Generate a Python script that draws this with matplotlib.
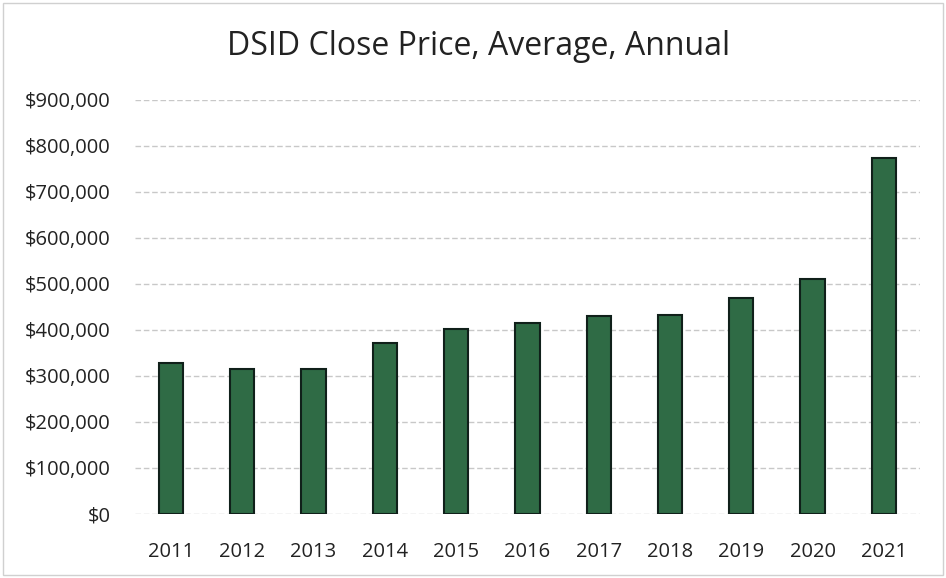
import matplotlib
matplotlib.use("Agg")
import matplotlib.pyplot as plt
from matplotlib.ticker import FuncFormatter, MultipleLocator

years = ["2011", "2012", "2013", "2014", "2015", "2016", "2017", "2018", "2019", "2020", "2021"]
avg_close = [328000, 316000, 314000, 372000, 401000, 416000, 430000, 432000, 469000, 511000, 774000]

plt.rcParams['font.family'] = ['Open Sans', 'DejaVu Sans']

fig = plt.figure(figsize=(9.46, 5.78), dpi=100)
ax = fig.add_axes([0.143, 0.111, 0.829, 0.716])

x = list(range(len(years)))
ax.bar(x, avg_close, width=0.34, color="#2f6b45", edgecolor="#10201a", linewidth=1.5, zorder=3)

ax.set_ylim(0, 900000)
ax.set_xlim(-0.5, len(years) - 0.5)
ax.yaxis.set_major_locator(MultipleLocator(100000))
ax.yaxis.set_major_formatter(FuncFormatter(lambda v, p: f"${v:,.0f}"))
ax.set_xticks(x)
ax.set_xticklabels(years)
ax.grid(axis="y", color="#c8c8c8", linewidth=1, linestyle=(0, (4, 2)), zorder=0)
for s in ax.spines.values():
    s.set_visible(False)
ax.tick_params(axis="both", length=0, labelsize=14.5, colors="#222222")
ax.tick_params(axis="y", pad=18)
ax.tick_params(axis="x", pad=20)

fig.text(0.506, 0.92, "DSID Close Price, Average, Annual", ha="center", va="center",
         fontsize=23, color="#222222")

fig.patches.append(plt.Rectangle((0.003, 0.005), 0.994, 0.99, transform=fig.transFigure,
                                 fill=False, edgecolor="#d0d0d0", linewidth=1))

fig.savefig("out.png", dpi=100)
